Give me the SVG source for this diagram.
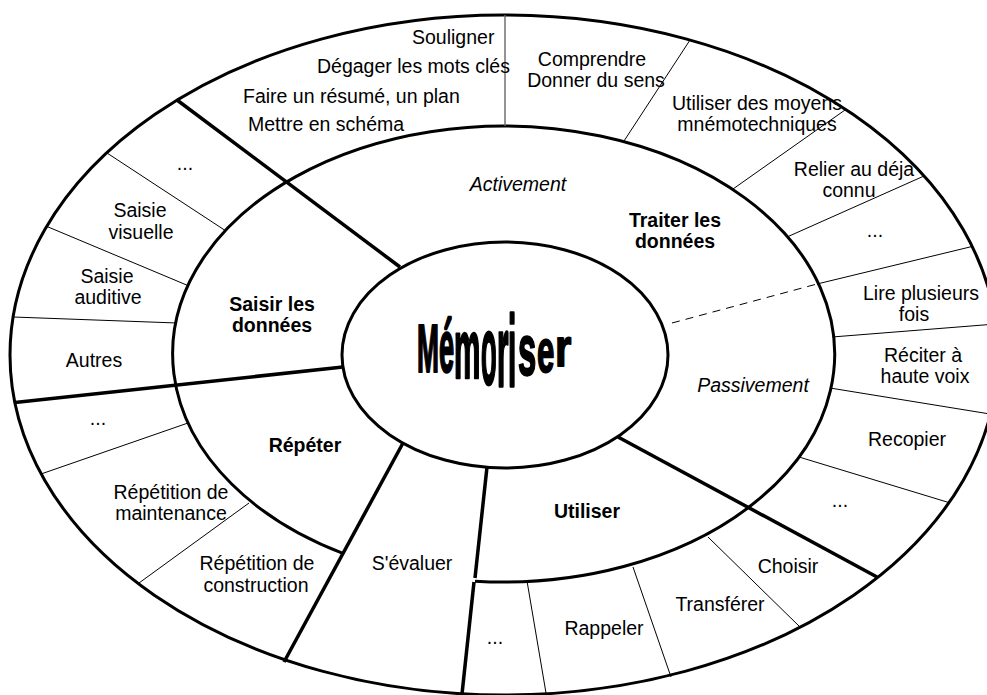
<svg xmlns="http://www.w3.org/2000/svg" width="987" height="695" viewBox="0 0 987 695">
  <style>
    .ring { fill: none; stroke: #000; stroke-width: 3; }
    .thick { fill: none; stroke: #000; stroke-width: 3.5; stroke-linecap: butt; }
    .thin { fill: none; stroke: #000; stroke-width: 1; }
    .grey { fill: none; stroke: #666; stroke-width: 1.4; }
    .dash { fill: none; stroke: #000; stroke-width: 1; stroke-dasharray: 8 6; }
    text { font-family: "Liberation Sans", Arial, sans-serif; font-size: 19.5px; fill: #000; }
    .mid { text-anchor: middle; }
    .b { font-weight: bold; }
    .it { font-style: italic; }
    .wa { font-family: "Liberation Sans", Arial, sans-serif; font-weight: bold; font-size: 40px; stroke: #000; stroke-width: 1.3; stroke-linejoin: round; }
  </style>

  <rect width="987" height="695" fill="#fff"/>

  <!-- rings and sector dividers -->
  <g id="connectors">
    <ellipse class="ring" cx="504" cy="355" rx="494" ry="340"/>
    <!-- middle ring, open across the S'évaluer sector -->
    <path class="ring" d="M 475 581.2 A 331 228 0 1 0 343 553.4"/>
    <ellipse class="ring" cx="505" cy="355" rx="163" ry="113" stroke-width="2.6"/>

    <!-- main sector boundaries -->
    <line class="thick" x1="400" y1="267" x2="177" y2="100"/>
    <line class="thick" x1="343" y1="367" x2="15" y2="402.5"/>
    <line class="thick" x1="403" y1="443" x2="284" y2="662"/>
    <line class="thick" x1="487" y1="467" x2="475" y2="578"/>
    <line class="thick" x1="474" y1="582" x2="462" y2="694"/>
    <line class="thick" x1="618" y1="437" x2="877" y2="577"/>

    <!-- active / passive split -->
    <line class="dash" x1="672" y1="323" x2="817" y2="284"/>

    <!-- outer ring subdivisions -->
    <line class="grey" x1="505" y1="15" x2="505" y2="126"/>
    <line class="thin" x1="624" y1="141" x2="690" y2="40"/>
    <line class="thin" x1="733" y1="189" x2="845" y2="110"/>
    <line class="thin" x1="787" y1="237" x2="924" y2="176"/>
    <line class="thin" x1="817" y1="284" x2="972" y2="246.5"/>
    <line class="thin" x1="832" y1="337" x2="996" y2="324"/>
    <line class="thin" x1="830" y1="388" x2="990" y2="414"/>
    <line class="thin" x1="799" y1="457" x2="949" y2="502.6"/>
    <line class="thin" x1="708" y1="537" x2="800" y2="627"/>
    <line class="thin" x1="633" y1="567" x2="671" y2="677"/>
    <line class="thin" x1="527" y1="581" x2="546" y2="693"/>
    <line class="thin" x1="226" y1="231" x2="107" y2="153"/>
    <line class="thin" x1="189" y1="286" x2="47" y2="226.5"/>
    <line class="thin" x1="177" y1="323" x2="13" y2="317"/>
    <line class="thin" x1="188" y1="423" x2="41" y2="474"/>
    <line class="thin" x1="249" y1="503" x2="139" y2="583"/>
  </g>

  <!-- centre word, letters stretched one by one -->
  <g id="memoriser">
    <text class="wa" transform="translate(417,372) scale(0.66,1.71)">M</text>
    <text class="wa" transform="translate(439,372) scale(0.68,1.85)">é</text>
    <text class="wa" transform="translate(454,378) scale(0.74,2.1)">m</text>
    <text class="wa" transform="translate(481,384) scale(0.64,2.4)">o</text>
    <text class="wa" transform="translate(497,386) scale(0.74,2.5)">r</text>
    <text class="wa" transform="translate(508,386) scale(0.74,2.5)">i</text>
    <text class="wa" transform="translate(518,375) scale(0.82,1.8)">s</text>
    <text class="wa" transform="translate(537,372) scale(0.78,1.54)">e</text>
    <text class="wa" transform="translate(555,366) scale(1.05,1.35)">r</text>
  </g>

  <g id="saisir">
    <text class="mid b" x="272" y="311">Saisir les</text>
    <text class="mid b" x="272" y="332">données</text>
    <text class="mid" x="185" y="170">...</text>
    <text class="mid" x="140" y="217">Saisie</text>
    <text class="mid" x="141" y="239">visuelle</text>
    <text class="mid" x="107" y="283">Saisie</text>
    <text class="mid" x="108" y="304">auditive</text>
    <text class="mid" x="94" y="367">Autres</text>
  </g>

  <g id="traiter">
    <text class="mid b" x="675" y="227">Traiter les</text>
    <text class="mid b" x="675" y="248">données</text>
    <text class="mid it" x="518" y="191">Activement</text>
    <text class="mid it" x="753" y="392">Passivement</text>
    <text x="412" y="44">Souligner</text>
    <text x="317" y="73">Dégager les mots clés</text>
    <text x="243" y="103">Faire un résumé, un plan</text>
    <text x="248" y="131">Mettre en schéma</text>
    <text class="mid" x="592" y="66">Comprendre</text>
    <text class="mid" x="596" y="87">Donner du sens</text>
    <text class="mid" x="757" y="110">Utiliser des moyens</text>
    <text class="mid" x="757" y="131">mnémotechniques</text>
    <text class="mid" x="854" y="176">Relier au déja</text>
    <text class="mid" x="849" y="197">connu</text>
    <text class="mid" x="875" y="237">...</text>
    <text class="mid" x="921" y="300">Lire plusieurs</text>
    <text class="mid" x="914" y="321">fois</text>
    <text class="mid" x="923" y="362">Réciter à</text>
    <text class="mid" x="925" y="383">haute voix</text>
    <text class="mid" x="907" y="446">Recopier</text>
    <text class="mid" x="840" y="507">...</text>
  </g>

  <g id="utiliser">
    <text class="mid b" x="587" y="518">Utiliser</text>
    <text class="mid" x="788" y="573">Choisir</text>
    <text class="mid" x="720" y="611">Transférer</text>
    <text class="mid" x="604" y="635">Rappeler</text>
    <text class="mid" x="495" y="644">...</text>
  </g>

  <g id="evaluer">
    <text class="mid" x="412" y="570">S'évaluer</text>
  </g>

  <g id="repeter">
    <text class="mid b" x="305" y="452">Répéter</text>
    <text class="mid" x="98" y="425">...</text>
    <text class="mid" x="171" y="499">Répétition de</text>
    <text class="mid" x="171" y="520">maintenance</text>
    <text class="mid" x="257" y="570">Répétition de</text>
    <text class="mid" x="256" y="592">construction</text>
  </g>
</svg>
